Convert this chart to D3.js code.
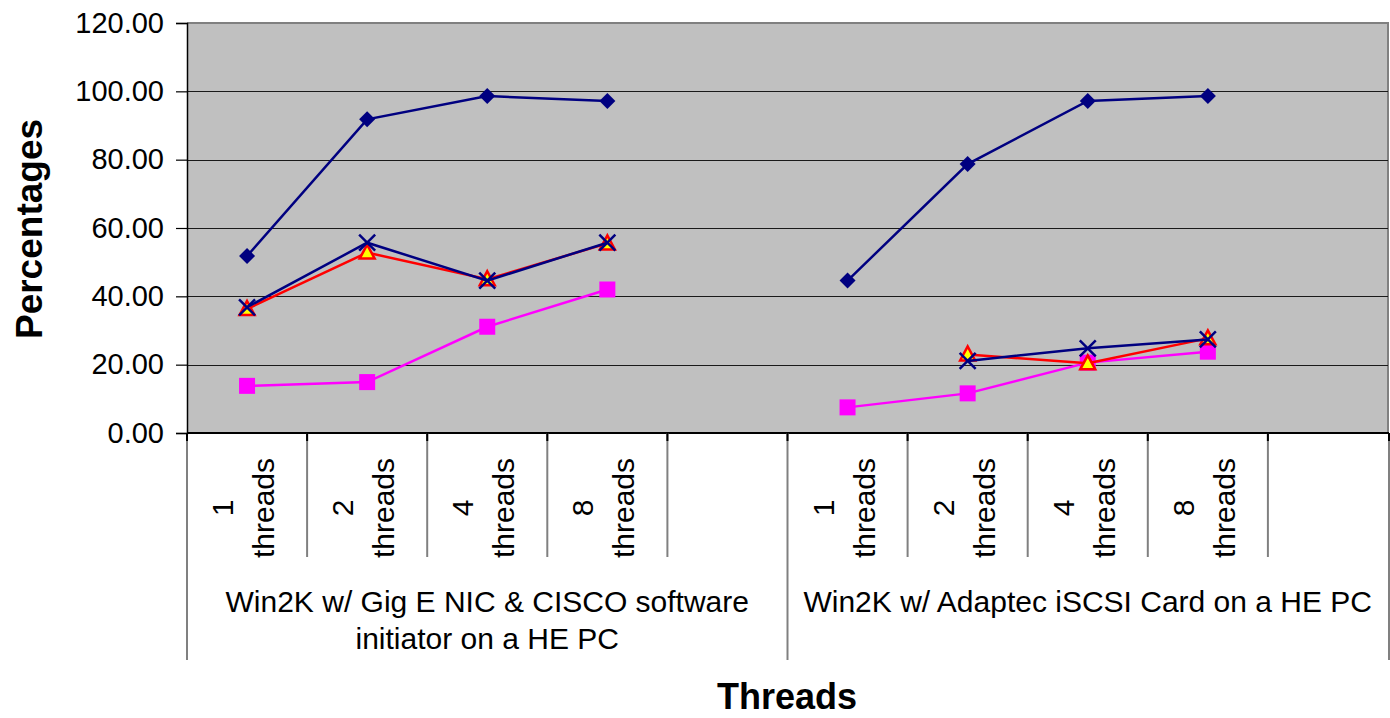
<!DOCTYPE html>
<html>
<head>
<meta charset="utf-8">
<script src="https://cdn.jsdelivr.net/npm/d3@7"></script>
<style>
  body { margin: 0; background: #fff; }
  svg { font-family: "Liberation Sans", Arial, sans-serif; }
</style>
</head>
<body>
<svg></svg>
<script>
const width = 1390;
const height = 718;

// chart data
const groupLabels = [
  ["Win2K w/ Gig E NIC & CISCO software", "initiator on a HE PC"],
  ["Win2K w/ Adaptec iSCSI Card on a HE PC"]
];
const threadLabels = ["1", "2", "4", "8", ""];
const yTicks = [0, 20, 40, 60, 80, 100, 120];

const seriesDiamond = [51.8, 91.8, 98.6, 97.2, null, 44.6, 78.7, 97.2, 98.6, null];
const seriesSquare = [13.8, 14.9, 31.1, 42.0, null, 7.5, 11.6, 20.6, 23.8, null];
const seriesTriangle = [36.3, 52.8, 45.0, 55.5, null, null, 23.0, 20.4, 27.7, null];
const seriesCross = [36.8, 55.7, 44.6, 55.7, null, null, 21.1, 24.8, 27.4, null];

const plotLeft = 187, plotRight = 1388, plotTop = 23, plotBottom = 433;

const svg = d3.select("svg").attr("width", width).attr("height", height);

const slots = d3.range(groupLabels.length * threadLabels.length);

const x = d3.scaleBand().domain(slots).range([plotLeft, plotRight]).padding(0);
const y = d3.scaleLinear().domain([0, 120]).range([plotBottom, plotTop]);

// plot area
svg.append("rect")
  .attr("x", plotLeft).attr("y", plotTop)
  .attr("width", plotRight - plotLeft).attr("height", plotBottom - plotTop)
  .attr("fill", "#c0c0c0");

svg.append("path")
  .attr("d", `M${plotLeft},${plotTop}H${plotRight}V${plotBottom}`)
  .attr("fill", "none").attr("stroke", "#808080").attr("stroke-width", 2);

svg.append("g")
  .selectAll("line")
  .data(yTicks.filter(d => d > 0 && d < 120))
  .enter().append("line")
  .attr("x1", plotLeft).attr("x2", plotRight)
  .attr("y1", d => Math.round(y(d)) + 0.5).attr("y2", d => Math.round(y(d)) + 0.5)
  .attr("stroke", "#1a1a1a").attr("stroke-width", 1.2);

// y axis
const yAxis = d3.axisLeft(y).tickValues(yTicks).tickFormat(d3.format(".2f"))
  .tickSize(11).tickPadding(12);
const gy = svg.append("g").attr("transform", `translate(${plotLeft},0)`).call(yAxis);
gy.select(".domain").attr("stroke", "#000").attr("stroke-width", 1.5);
gy.selectAll(".tick line").attr("stroke", "#000").attr("stroke-width", 1.2);
gy.selectAll("text").attr("font-size", 29).attr("fill", "#000")
  .attr("font-family", "Liberation Sans, Arial, sans-serif");

// category axis
const catG = svg.append("g");
catG.append("line")
  .attr("x1", plotLeft).attr("x2", plotRight + 1).attr("y1", plotBottom).attr("y2", plotBottom)
  .attr("stroke", "#000").attr("stroke-width", 2);

const bounds = slots.map(i => x(i)).concat([plotRight + 1]);
catG.selectAll(".div")
  .data(bounds)
  .enter().append("line")
  .attr("x1", d => d).attr("x2", d => d)
  .attr("y1", plotBottom)
  .attr("y2", (d, i) => i % threadLabels.length === 0 ? 660 : 557)
  .attr("stroke", "#808080").attr("stroke-width", 2);

catG.selectAll(".tk")
  .data(bounds)
  .enter().append("line")
  .attr("x1", d => d).attr("x2", d => d)
  .attr("y1", plotBottom).attr("y2", plotBottom + 8)
  .attr("stroke", "#000").attr("stroke-width", 2);

slots.forEach(i => {
  const lab = threadLabels[i % threadLabels.length];
  if (!lab) return;
  const cx = x(i) + x.bandwidth() / 2;
  const t = catG.append("text")
    .attr("transform", `translate(${cx},508) rotate(-90)`)
    .attr("text-anchor", "middle")
    .attr("font-size", 30);
  t.append("tspan").attr("x", 0).attr("y", -14).text(lab);
  t.append("tspan").attr("x", 0).attr("y", 27).text("threads");
});

groupLabels.forEach((lines, g) => {
  const x0 = x(g * threadLabels.length);
  const x1 = g === groupLabels.length - 1 ? plotRight : x((g + 1) * threadLabels.length);
  const gx = (x0 + x1) / 2;
  const t = catG.append("text").attr("text-anchor", "middle").attr("font-size", 30);
  lines.forEach((ln, k) => {
    t.append("tspan").attr("x", gx).attr("y", 612 + k * 37).text(ln);
  });
});

// axis titles
svg.append("text")
  .attr("transform", "translate(42,229) rotate(-90)")
  .attr("text-anchor", "middle")
  .attr("font-size", 37).attr("font-weight", "bold")
  .text("Percentages");

svg.append("text")
  .attr("x", 787).attr("y", 709)
  .attr("text-anchor", "middle")
  .attr("font-size", 36).attr("font-weight", "bold")
  .text("Threads");

// lines and markers
const cx = i => x(i) + x.bandwidth() / 2;
const line = d3.line()
  .defined(d => d.v !== null)
  .x(d => cx(d.i))
  .y(d => y(d.v));

function drawSeries(values, color, marker) {
  const pts = values.map((v, i) => ({ v, i }));
  svg.append("path")
    .datum(pts)
    .attr("d", line)
    .attr("fill", "none")
    .attr("stroke", color)
    .attr("stroke-width", 2.5);
  const g = svg.append("g");
  pts.filter(d => d.v !== null).forEach(d => marker(g, cx(d.i), y(d.v)));
}

drawSeries(seriesDiamond, "#000080", (g, px, py) => {
  g.append("path")
    .attr("d", `M${px},${py - 8}L${px + 8},${py}L${px},${py + 8}L${px - 8},${py}Z`)
    .attr("fill", "#000080");
});

drawSeries(seriesSquare, "#ff00ff", (g, px, py) => {
  g.append("rect")
    .attr("x", px - 8).attr("y", py - 8).attr("width", 16).attr("height", 16)
    .attr("fill", "#ff00ff");
});

drawSeries(seriesTriangle, "#ff0000", (g, px, py) => {
  g.append("path")
    .attr("d", `M${px},${py - 8}L${px + 7.5},${py + 6}L${px - 7.5},${py + 6}Z`)
    .attr("fill", "#ffff00").attr("stroke", "#ff0000").attr("stroke-width", 2.5);
});

drawSeries(seriesCross, "#000080", (g, px, py) => {
  g.append("path")
    .attr("d", `M${px - 8},${py - 8}L${px + 8},${py + 8}M${px + 8},${py - 8}L${px - 8},${py + 8}`)
    .attr("stroke", "#000080").attr("stroke-width", 2.5);
});
</script>
</body>
</html>
